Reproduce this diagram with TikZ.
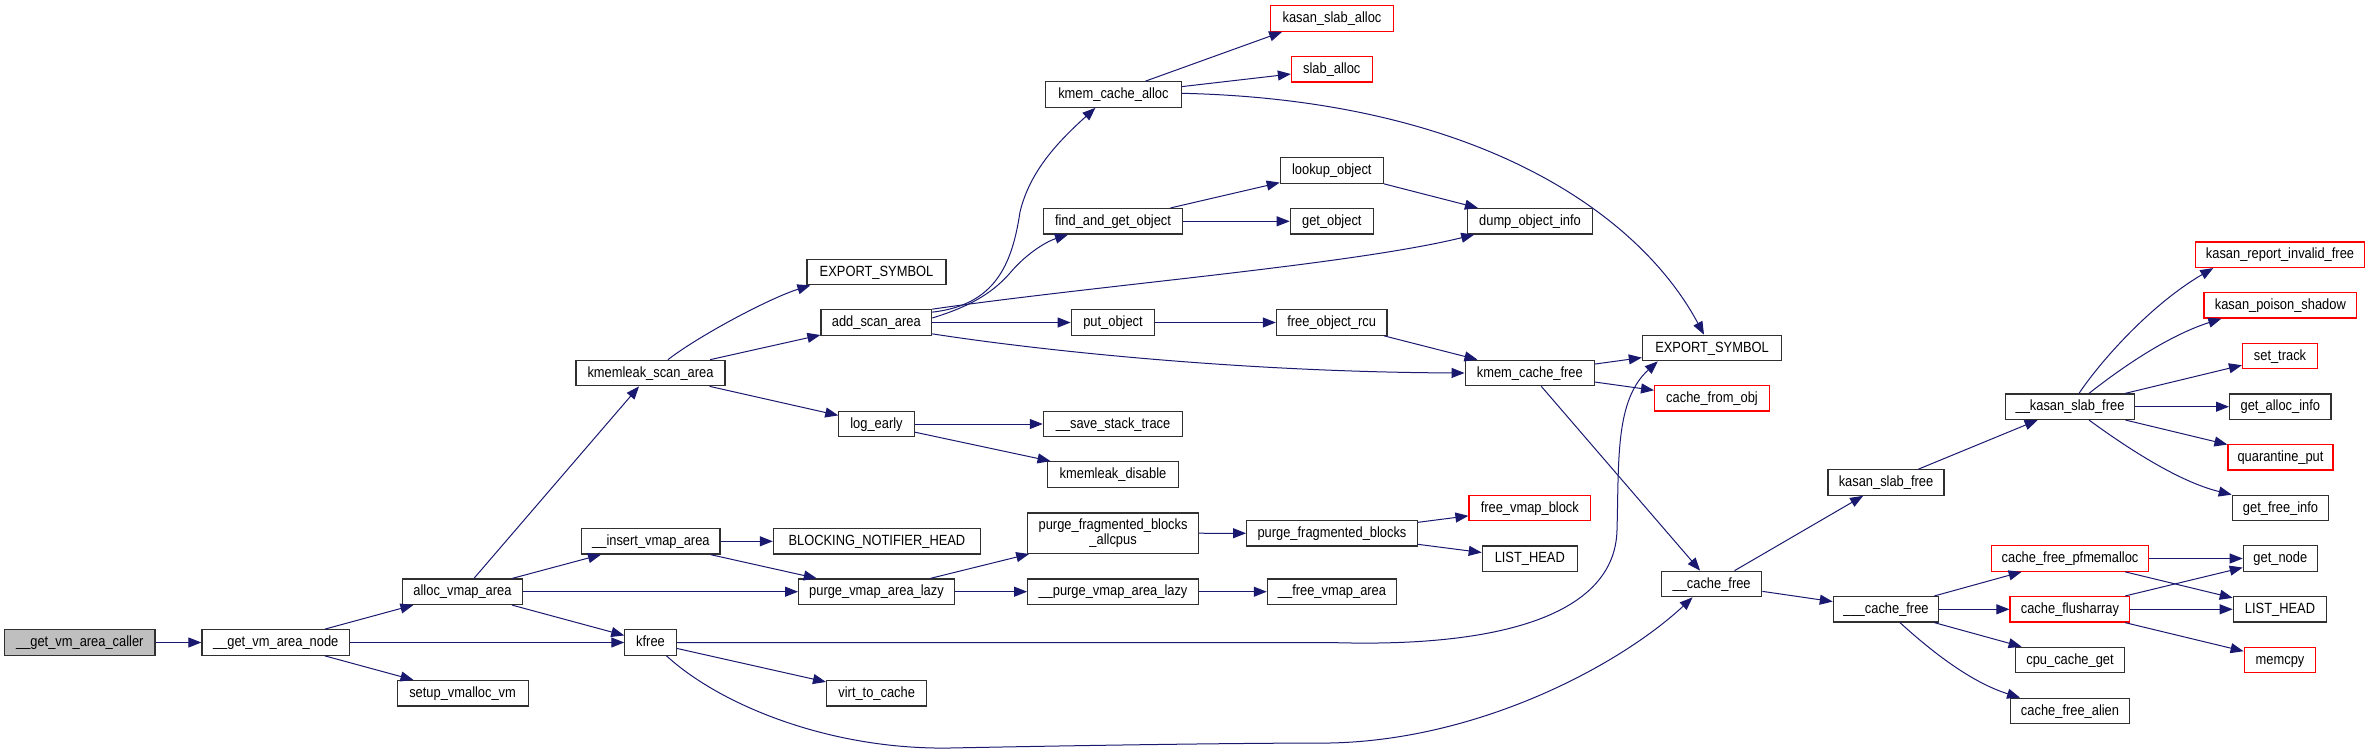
\documentclass[tikz,border=0pt]{standalone}
\usepackage{fontspec}
\setmainfont{Liberation Sans}
\newfontfamily\nodefont[FakeStretch=0.87]{Liberation Sans}
\usetikzlibrary{arrows.meta,calc}
\definecolor{edgec}{HTML}{191970}
\definecolor{callerfill}{HTML}{BFBFBF}
\definecolor{nodeline}{HTML}{303030}
\tikzset{
  fnbase/.style={draw=nodeline, line width=1.2pt, fill=white, minimum height=25.5pt, inner sep=0pt, font=\nodefont\fontsize{14.8}{15}\selectfont, anchor=center},
  fn/.style={fnbase, text height=10.6pt, text depth=2.6pt},
  fnred/.style={fn, draw=red},
  e/.style={draw=edgec, line width=1pt, -{Triangle[length=13pt,width=10pt]}},
}
\begin{document}
\begin{tikzpicture}[x=1pt,y=-1pt]
\useasboundingbox (0,0) rectangle (2379,755);
% column 1-3
\node[fn, fill=callerfill, minimum width=150.4pt] (caller) at (79.8,642.5) {\_\_get\_vm\_area\_caller};
\node[fn, minimum width=147.4pt] (gvan) at (275.7,642.5) {\_\_get\_vm\_area\_node};
\node[fn, minimum width=119.8pt] (alloc) at (462.5,591.7) {alloc\_vmap\_area};
\node[fn, minimum width=131pt] (setup) at (462.6,693.3) {setup\_vmalloc\_vm};
% column 4
\node[fn, minimum width=149pt] (ksa) at (650.5,373) {kmemleak\_scan\_area};
\node[fn, minimum width=138.3pt] (insert) at (650.9,541.3) {\_\_insert\_vmap\_area};
\node[fn, minimum width=51.3pt] (kfree) at (650.5,642.5) {kfree};
% column 5
\node[fn, minimum width=139pt] (es1) at (876.5,272) {EXPORT\_SYMBOL};
\node[fn, minimum width=110.7pt] (asa) at (876.3,322.5) {add\_scan\_area};
\node[fn, minimum width=75.3pt] (logearly) at (876.5,424) {log\_early};
\node[fn, minimum width=207pt] (bnh) at (876.9,541.3) {BLOCKING\_NOTIFIER\_HEAD};
\node[fn, minimum width=155.7pt] (pval) at (876.5,591.7) {purge\_vmap\_area\_lazy};
\node[fn, minimum width=100.3pt] (v2c) at (876.7,693.3) {virt\_to\_cache};
% column 6
\node[fn, minimum width=135.8pt] (kca) at (1113.4,94.5) {kmem\_cache\_alloc};
\node[fn, minimum width=139pt] (fago) at (1113,221.3) {find\_and\_get\_object};
\node[fn, minimum width=83.5pt] (put) at (1113,322.5) {put\_object};
\node[fn, minimum width=139.3pt] (sst) at (1113,424) {\_\_save\_stack\_trace};
\node[fn, minimum width=131pt] (kmd) at (1113,474.5) {kmemleak\_disable};
\node[fnbase, minimum width=170.6pt, minimum height=40.3pt, align=center] (pfba) at (1113.1,533.2) {purge\_fragmented\_blocks\\\_allcpus};
\node[fn, minimum width=170.6pt] (upval) at (1113,591.7) {\_\_purge\_vmap\_area\_lazy};
% column 7
\node[fnred, minimum width=122.5pt] (ksal) at (1332,18.5) {kasan\_slab\_alloc};
\node[fnred, minimum width=80.7pt] (slab) at (1331.8,69.3) {slab\_alloc};
\node[fn, minimum width=103pt] (lookup) at (1331.8,170.5) {lookup\_object};
\node[fn, minimum width=83pt] (getobj) at (1331.8,221.3) {get\_object};
\node[fn, minimum width=110.6pt] (for) at (1331.7,322.5) {free\_object\_rcu};
\node[fn, minimum width=170.7pt] (pfb) at (1332,533.3) {purge\_fragmented\_blocks};
\node[fn, minimum width=129.3pt] (fva) at (1332,591.7) {\_\_free\_vmap\_area};
% column 8
\node[fn, minimum width=124.4pt] (dump) at (1530,221.3) {dump\_object\_info};
\node[fn, minimum width=129.4pt] (kcf) at (1529.8,373) {kmem\_cache\_free};
\node[fnred, minimum width=121.6pt] (fvb) at (1529.8,508) {free\_vmap\_block};
\node[fn, minimum width=95pt] (lh1) at (1529.8,558.7) {LIST\_HEAD};
% column 9
\node[fn, minimum width=139.2pt] (es2) at (1712,348) {EXPORT\_SYMBOL};
\node[fnred, minimum width=114.8pt] (cfo) at (1712,398.3) {cache\_from\_obj};
\node[fn, minimum width=100.3pt] (cf2) at (1711.6,584) {\_\_cache\_free};
% column 10
\node[fn, minimum width=116pt] (ksf) at (1886,482.5) {kasan\_slab\_free};
\node[fn, minimum width=105.3pt] (cf3) at (1886,609.3) {\_\_\_cache\_free};
% column 11
\node[fn, minimum width=128.6pt] (ksf2) at (2070,406.7) {\_\_kasan\_slab\_free};
\node[fnred, minimum width=157.7pt] (cfp) at (2070,558.5) {cache\_free\_pfmemalloc};
\node[fnred, minimum width=119.7pt] (cflush) at (2069.9,609.3) {cache\_flusharray};
\node[fn, minimum width=109.5pt] (ccg) at (2070,660) {cpu\_cache\_get};
\node[fn, minimum width=118.7pt] (cfa) at (2070,711) {cache\_free\_alien};
% column 12
\node[fnred, minimum width=168.3pt] (krif) at (2280,254.7) {kasan\_report\_invalid\_free};
\node[fnred, minimum width=152.7pt] (kps) at (2280.3,305.3) {kasan\_poison\_shadow};
\node[fnred, minimum width=75pt] (settrack) at (2280,356) {set\_track};
\node[fn, minimum width=101.4pt] (gai) at (2280.3,406.7) {get\_alloc\_info};
\node[fnred, minimum width=105pt] (qp) at (2280.5,457.3) {quarantine\_put};
\node[fn, minimum width=96.4pt] (gfi) at (2280.5,508) {get\_free\_info};
\node[fn, minimum width=74pt] (getnode) at (2280.3,558.5) {get\_node};
\node[fn, minimum width=93.4pt] (lh2) at (2280,609.3) {LIST\_HEAD};
\node[fnred, minimum width=71.7pt] (memcpy) at (2280,660) {memcpy};

% edges
\draw[e] (caller) -- (gvan);
\draw[e] (gvan) -- (alloc);
\draw[e] (gvan) -- (kfree);
\draw[e] (gvan) -- (setup);
\draw[e] (alloc) -- (ksa);
\draw[e] (alloc) -- (insert);
\draw[e] (alloc) -- (pval);
\draw[e] (alloc) -- (kfree);
\draw[e] (ksa) .. controls (700,335) and (770,298) .. ($(es1.south west)+(4,0)$);
\draw[e] (ksa) -- (asa);
\draw[e] (ksa) -- (logearly);
\draw[e] ($(asa.north east)+(0,3)$) .. controls (995,305) and (1012,265) .. (1020,212) .. controls (1030,170) and (1060,140) .. ($(kca.south)+(-18,0)$);
\draw[e] ($(asa.east)+(0,-4.5)$) .. controls (975,305) and (995,290) .. (1010,273) .. controls (1025,255) and (1045,242) .. ($(fago.south)+(-45,0)$);
\draw[e] (asa.north east) .. controls (1100,285) and (1350,265) .. ($(dump.south west)+(7,0)$);
\draw[e] (asa) -- (put);
\draw[e] ($(asa.south east)+(0,-2)$) .. controls (1050,352) and (1250,372) .. (kcf.west);
\draw[e] ($(kca.north)+(32,0)$) -- ($(ksal.south west)+(12,0)$);
\draw[e] (kca) -- (slab);
\draw[e] ($(kca.east)+(0,-1.2)$) .. controls (1480,100) and (1640,215) .. ($(es2.north)+(-8,0)$);
\draw[e] (fago) -- (lookup);
\draw[e] (fago) -- (getobj);
\draw[e] (lookup) -- (dump);
\draw[e] (put) -- (for);
\draw[e] (for) -- (kcf);
\draw[e] (kcf) -- (es2);
\draw[e] (kcf) -- (cfo);
\draw[e] (kcf) -- (cf2);
\draw[e] (kfree.east) -- (1330,642.5) .. controls (1500,648) and (1615,615) .. (1617,530) .. controls (1619,460) and (1615,400) .. ($(es2.south west)+(16,0)$);
\draw[e] ($(kfree.south)+(16,0)$) .. controls (720,705) and (830,750) .. (950,748) .. controls (1100,745) and (1250,743) .. (1330,743) .. controls (1480,740) and (1620,665) .. ($(cf2.south)+(-19,0)$);
\draw[e] (kfree) -- (v2c);
\draw[e] (logearly) -- (sst);
\draw[e] (logearly) -- (kmd);
\draw[e] (insert) -- (bnh);
\draw[e] (insert) -- (pval);
\draw[e] (pval) -- (pfba);
\draw[e] (pval) -- (upval);
\draw[e] (pfba) -- (pfb);
\draw[e] (pfb) -- (fvb);
\draw[e] (pfb) -- (lh1);
\draw[e] (upval) -- (fva);
\draw[e] (cf2) -- (ksf);
\draw[e] (cf2) -- (cf3);
\draw[e] (ksf) -- (ksf2);
\draw[e] ($(ksf2.north)+(9,0)$) .. controls (2100,362) and (2150,305) .. ($(krif.south west)+(18,0)$);
\draw[e] ($(ksf2.north)+(19,0)$) .. controls (2125,365) and (2170,335) .. ($(kps.south west)+(18,0)$);
\draw[e] (ksf2) -- (settrack);
\draw[e] (ksf2) -- (gai);
\draw[e] (ksf2) -- (qp);
\draw[e] ($(ksf2.south)+(19,0)$) .. controls (2130,450) and (2180,482) .. (gfi.north west);
\draw[e] (cf3) -- (cfp);
\draw[e] (cf3) -- (cflush);
\draw[e] (cf3) -- (ccg);
\draw[e] ($(cf3.south)+(14,0)$) .. controls (1930,650) and (1970,682) .. ($(cfa.north west)+(10,0)$);
\draw[e] (cfp) -- (getnode);
\draw[e] (cfp) -- (lh2);
\draw[e] (cflush) -- (getnode);
\draw[e] (cflush) -- (lh2);
\draw[e] (cflush) -- (memcpy);
\end{tikzpicture}
\end{document}
